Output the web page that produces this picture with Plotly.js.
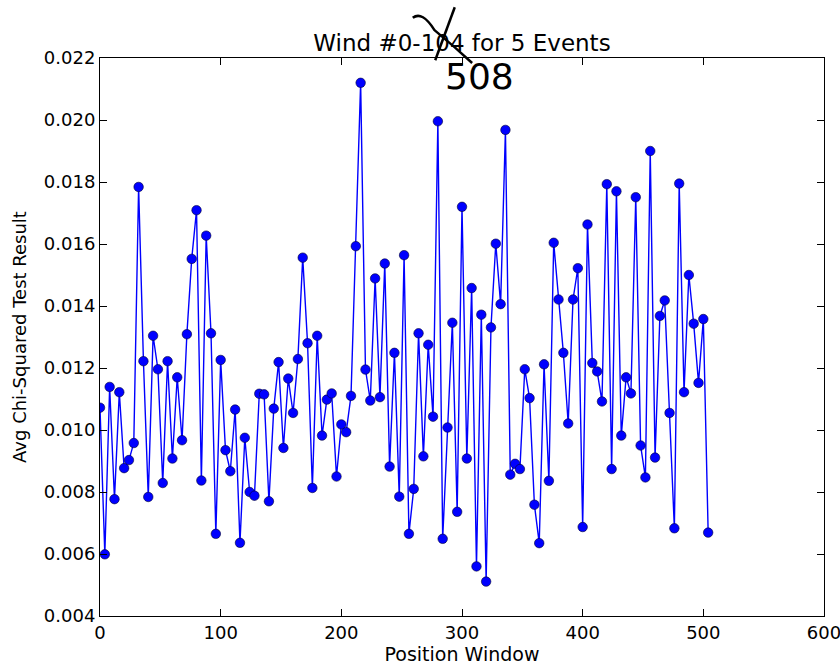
<!DOCTYPE html>
<html>
<head>
<meta charset="utf-8">
<script src="https://cdn.plot.ly/plotly-3.0.1.min.js"></script>
<style>html,body{margin:0;padding:0;background:#fff;}#chart{width:840px;height:668px;}</style>
</head>
<body>
<div id="chart"></div>
<script>
const positions = [0,4,8,12,16,20,24,28,32,36,40,44,48,52,56,60,64,68,72,76,80,84,88,92,96,100,104,108,112,116,120,124,128,132,136,140,144,148,152,156,160,164,168,172,176,180,184,188,192,196,200,204,208,212,216,220,224,228,232,236,240,244,248,252,256,260,264,268,272,276,280,284,288,292,296,300,304,308,312,316,320,324,328,332,336,340,344,348,352,356,360,364,368,372,376,380,384,388,392,396,400,404,408,412,416,420,424,428,432,436,440,444,448,452,456,460,464,468,472,476,480,484,488,492,496,500,504];
const chiSquared = [0.01072,0.00599,0.01139,0.00777,0.01122,0.00877,0.00903,0.00958,0.01784,0.01222,
0.00784,0.01304,0.01196,0.00829,0.01222,0.00908,0.0117,0.00967,0.01309,0.01552,
0.01709,0.00837,0.01627,0.01312,0.00665,0.01226,0.00935,0.00867,0.01066,0.00636,
0.00975,0.008,0.00788,0.01117,0.01115,0.0077,0.01069,0.01219,0.00942,0.01166,
0.01055,0.01229,0.01556,0.0128,0.00813,0.01304,0.00982,0.01098,0.01118,0.0085,
0.01018,0.00993,0.0111,0.01593,0.0212,0.01195,0.01095,0.01489,0.01106,0.01537,
0.00882,0.01249,0.00785,0.01564,0.00665,0.0081,0.01312,0.00915,0.01275,0.01043,
0.01996,0.00649,0.01008,0.01346,0.00736,0.0172,0.00908,0.01458,0.0056,0.01372,
0.00511,0.01331,0.01601,0.01406,0.01968,0.00856,0.00891,0.00874,0.01196,0.01103,
0.00759,0.00635,0.01212,0.00836,0.01604,0.01421,0.01249,0.01021,0.01421,0.01522,
0.00687,0.01663,0.01216,0.01189,0.01092,0.01793,0.00874,0.0177,0.00982,0.0117,
0.01118,0.01751,0.0095,0.00847,0.019,0.00911,0.01368,0.01418,0.01055,0.00683,
0.01795,0.01122,0.015,0.01343,0.01152,0.01358,0.00669];
const xTicks = [0,100,200,300,400,500,600];
const yTicks = [0.004,0.006,0.008,0.010,0.012,0.014,0.016,0.018,0.020,0.022];
const titleText = "Wind #0-104 for 5 Events";
const xTitle = "Position Window";
const yTitle = "Avg Chi-Squared Test Result";
const noteText = "508";

const font = "DejaVu Sans, sans-serif";
const trace = {
  x: positions, y: chiSquared, type: 'scatter', mode: 'lines+markers',
  line: {color: '#0000ff', width: 1.4},
  marker: {color: '#0000ff', size: 9.5, line: {color: '#000033', width: 0.6}},
  hoverinfo: 'skip'
};
const axisCommon = {
  showgrid: false, zeroline: false, showline: true, linecolor: '#000', linewidth: 1,
  mirror: 'ticks', ticks: 'inside', ticklen: 7, tickwidth: 1, tickcolor: '#000',
  ticklabeloverflow: 'allow',
  tickfont: {family: font, size: 18, color: '#000'}
};
const layout = {
  width: 840, height: 668,
  margin: {l: 100, r: 16, t: 58, b: 52},
  paper_bgcolor: '#fff', plot_bgcolor: '#fff',
  showlegend: false,
  title: {text: titleText, font: {family: font, size: 23, color: '#000'},
          x: 0.5, xref: 'paper', xanchor: 'center', y: 1, yref: 'paper', yanchor: 'bottom', pad: {b: 7}},
  xaxis: Object.assign({}, axisCommon, {
    range: [0, 600], tickvals: xTicks, ticktext: xTicks.map(String),
    title: {text: xTitle, font: {family: font, size: 19, color: '#000'}, standoff: 2}
  }),
  yaxis: Object.assign({}, axisCommon, {
    range: [0.004, 0.022], tickvals: yTicks, ticktext: yTicks.map(v => v.toFixed(3)),
    title: {text: yTitle, font: {family: font, size: 18, color: '#000'}, standoff: 12}
  }),
  annotations: [{
    text: noteText, xref: 'paper', yref: 'paper', x: 0.5235, y: 0.966, xanchor: 'center', yanchor: 'middle',
    showarrow: false, font: {family: 'DejaVu Sans, sans-serif', size: 36, color: '#000'}
  }],
  shapes: [
    {type: 'path', xref: 'paper', yref: 'paper', path: 'M0.432,1.072 Q0.445,1.085 0.462,1.05 Q0.49,1.02 0.514,0.991', line: {color: '#000', width: 2.5}},
    {type: 'line', xref: 'paper', yref: 'paper', x0: 0.490, y0: 1.091, x1: 0.463, y1: 0.996, line: {color: '#000', width: 2.5}}
  ]
};
Plotly.newPlot('chart', [trace], layout, {displayModeBar: false, staticPlot: true});
</script>
</body>
</html>
